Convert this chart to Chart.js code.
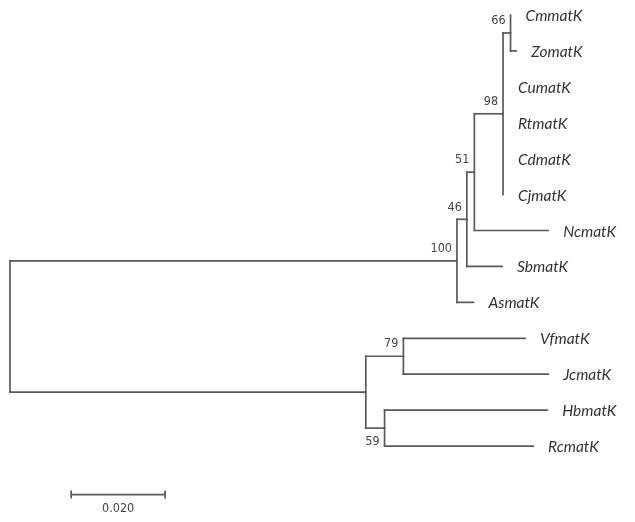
<!DOCTYPE html>
<html>
<head>
<meta charset="utf-8">
<script src="https://cdn.jsdelivr.net/npm/chart.js@4.4.1/dist/chart.umd.min.js"></script>
<style>
  html, body { margin: 0; padding: 0; background: #ffffff; }
  #wrap { width: 635px; height: 522px; position: relative; }
</style>
</head>
<body>
<div id="wrap"><canvas id="c" width="635" height="522"></canvas></div>
<script>
// ---- Data: taxa (leaves, top to bottom) ----
const taxa = ['CmmatK','ZomatK','CumatK','RtmatK','CdmatK','CjmatK','NcmatK','SbmatK','AsmatK','VfmatK','JcmatK','HbmatK','RcmatK'];
const taxonParent = ['n66','n66','n98','n98','n98','n98','n51','n46','n100','n79','n79','n59','n59'];
const taxonBranch = [0, 0.0012, 0, 0, 0, 0, 0.0157, 0.0075, 0.0035, 0.0259, 0.0308, 0.0346, 0.0316];

// ---- Data: internal nodes ----
const nodeNames  = ['root','n100','n46','n51','n98','n66','nLow','n79','n59'];
const nodeParent = [null,'root','n100','n46','n51','n98','root','nLow','nLow'];
const nodeBranch = [0, 0.0951, 0.0021, 0.0016, 0.0061, 0.0016, 0.0757, 0.0080, 0.0040];
const bootstrap  = [null, '100', '46', '51', '98', '66', null, '79', '59'];

// ---- Scale bar ----
const scaleBarValue = [0.020];
const scaleBarLabel = ['0.020'];

// ---- Build tree geometry from the arrays ----
const nodes = {};
nodeNames.forEach((n, i) => {
  const p = nodeParent[i];
  nodes[n] = { x: (p ? nodes[p].x : 0) + nodeBranch[i], children: [], parent: p };
  if (p) nodes[p].children.push(n);
});
taxa.forEach((t, i) => {
  const p = taxonParent[i];
  nodes[t] = { x: nodes[p].x + taxonBranch[i], y: i, children: [], parent: p, leaf: true };
  nodes[p].children.push(t);
});
function setY(n) {
  const nd = nodes[n];
  if (nd.leaf) return nd.y;
  const ys = nd.children.map(setY);
  nd.minY = Math.min(...ys);
  nd.maxY = Math.max(...ys);
  nd.y = (ys[0] + ys[ys.length - 1]) / 2;
  return nd.y;
}
setY('root');

const lineColor = '#5a5a5a';
const datasets = [];
function seg(a, b) {
  datasets.push({
    data: [a, b], showLine: true, borderColor: lineColor, borderWidth: 1.7,
    pointRadius: 0, borderCapStyle: 'square', fill: false
  });
}
Object.keys(nodes).forEach(n => {
  const nd = nodes[n];
  if (nd.parent) {
    const px = nodes[nd.parent].x;
    if (nd.x > px) seg({ x: px, y: nd.y }, { x: nd.x, y: nd.y });
  }
  if (!nd.leaf) seg({ x: nd.x, y: nd.minY }, { x: nd.x, y: nd.maxY });
});

// scale bar (drawn in data units through the scales)
const scaleBarStart = 0.013;
const scaleBarRow = 13.35;
datasets.push({
  data: [{ x: scaleBarStart, y: scaleBarRow }, { x: scaleBarStart + scaleBarValue[0], y: scaleBarRow }],
  showLine: true, borderColor: lineColor, borderWidth: 1.7, pointRadius: 0
});

const labelPlugin = {
  id: 'treeLabels',
  afterDatasetsDraw(chart) {
    const ctx = chart.ctx, xs = chart.scales.x, ys = chart.scales.y;
    ctx.save();
    // taxon names
    ctx.fillStyle = '#333333';
    ctx.font = 'italic 15.5px Lato, "Liberation Sans", sans-serif';
    ctx.textAlign = 'left';
    ctx.textBaseline = 'middle';
    taxa.forEach((t) => {
      const nd = nodes[t];
      ctx.fillText(t, xs.getPixelForValue(nd.x) + 15, ys.getPixelForValue(nd.y) + 1);
    });
    // bootstrap values
    ctx.fillStyle = '#444444';
    ctx.font = '12.5px "DejaVu Sans Condensed", "DejaVu Sans", sans-serif';
    ctx.textAlign = 'right';
    nodeNames.forEach((n, i) => {
      if (!bootstrap[i]) return;
      const nd = nodes[n];
      const below = n === 'n59';
      ctx.fillText(bootstrap[i], xs.getPixelForValue(nd.x) - 5,
                   ys.getPixelForValue(nd.y) + (below ? 14 : -12));
    });
    // scale bar end ticks and label
    const x0 = xs.getPixelForValue(scaleBarStart);
    const x1 = xs.getPixelForValue(scaleBarStart + scaleBarValue[0]);
    const yb = ys.getPixelForValue(scaleBarRow);
    ctx.strokeStyle = lineColor;
    ctx.lineWidth = 1.7;
    ctx.beginPath();
    ctx.moveTo(x0, yb - 4); ctx.lineTo(x0, yb + 4);
    ctx.moveTo(x1, yb - 4); ctx.lineTo(x1, yb + 4);
    ctx.stroke();
    ctx.textAlign = 'center';
    ctx.fillText(scaleBarLabel[0], (x0 + x1) / 2, yb + 14);
    ctx.restore();
  }
};

new Chart(document.getElementById('c'), {
  type: 'scatter',
  data: { datasets },
  options: {
    responsive: false,
    animation: false,
    layout: { padding: 0 },
    plugins: { legend: { display: false }, tooltip: { enabled: false } },
    scales: {
      x: { type: 'linear', display: false, min: -10 / 4700, max: 625 / 4700 },
      y: { type: 'linear', display: false, reverse: true, min: -15 / 35.92, max: (522 - 15) / 35.92 }
    }
  },
  plugins: [labelPlugin]
});
</script>
</body>
</html>
